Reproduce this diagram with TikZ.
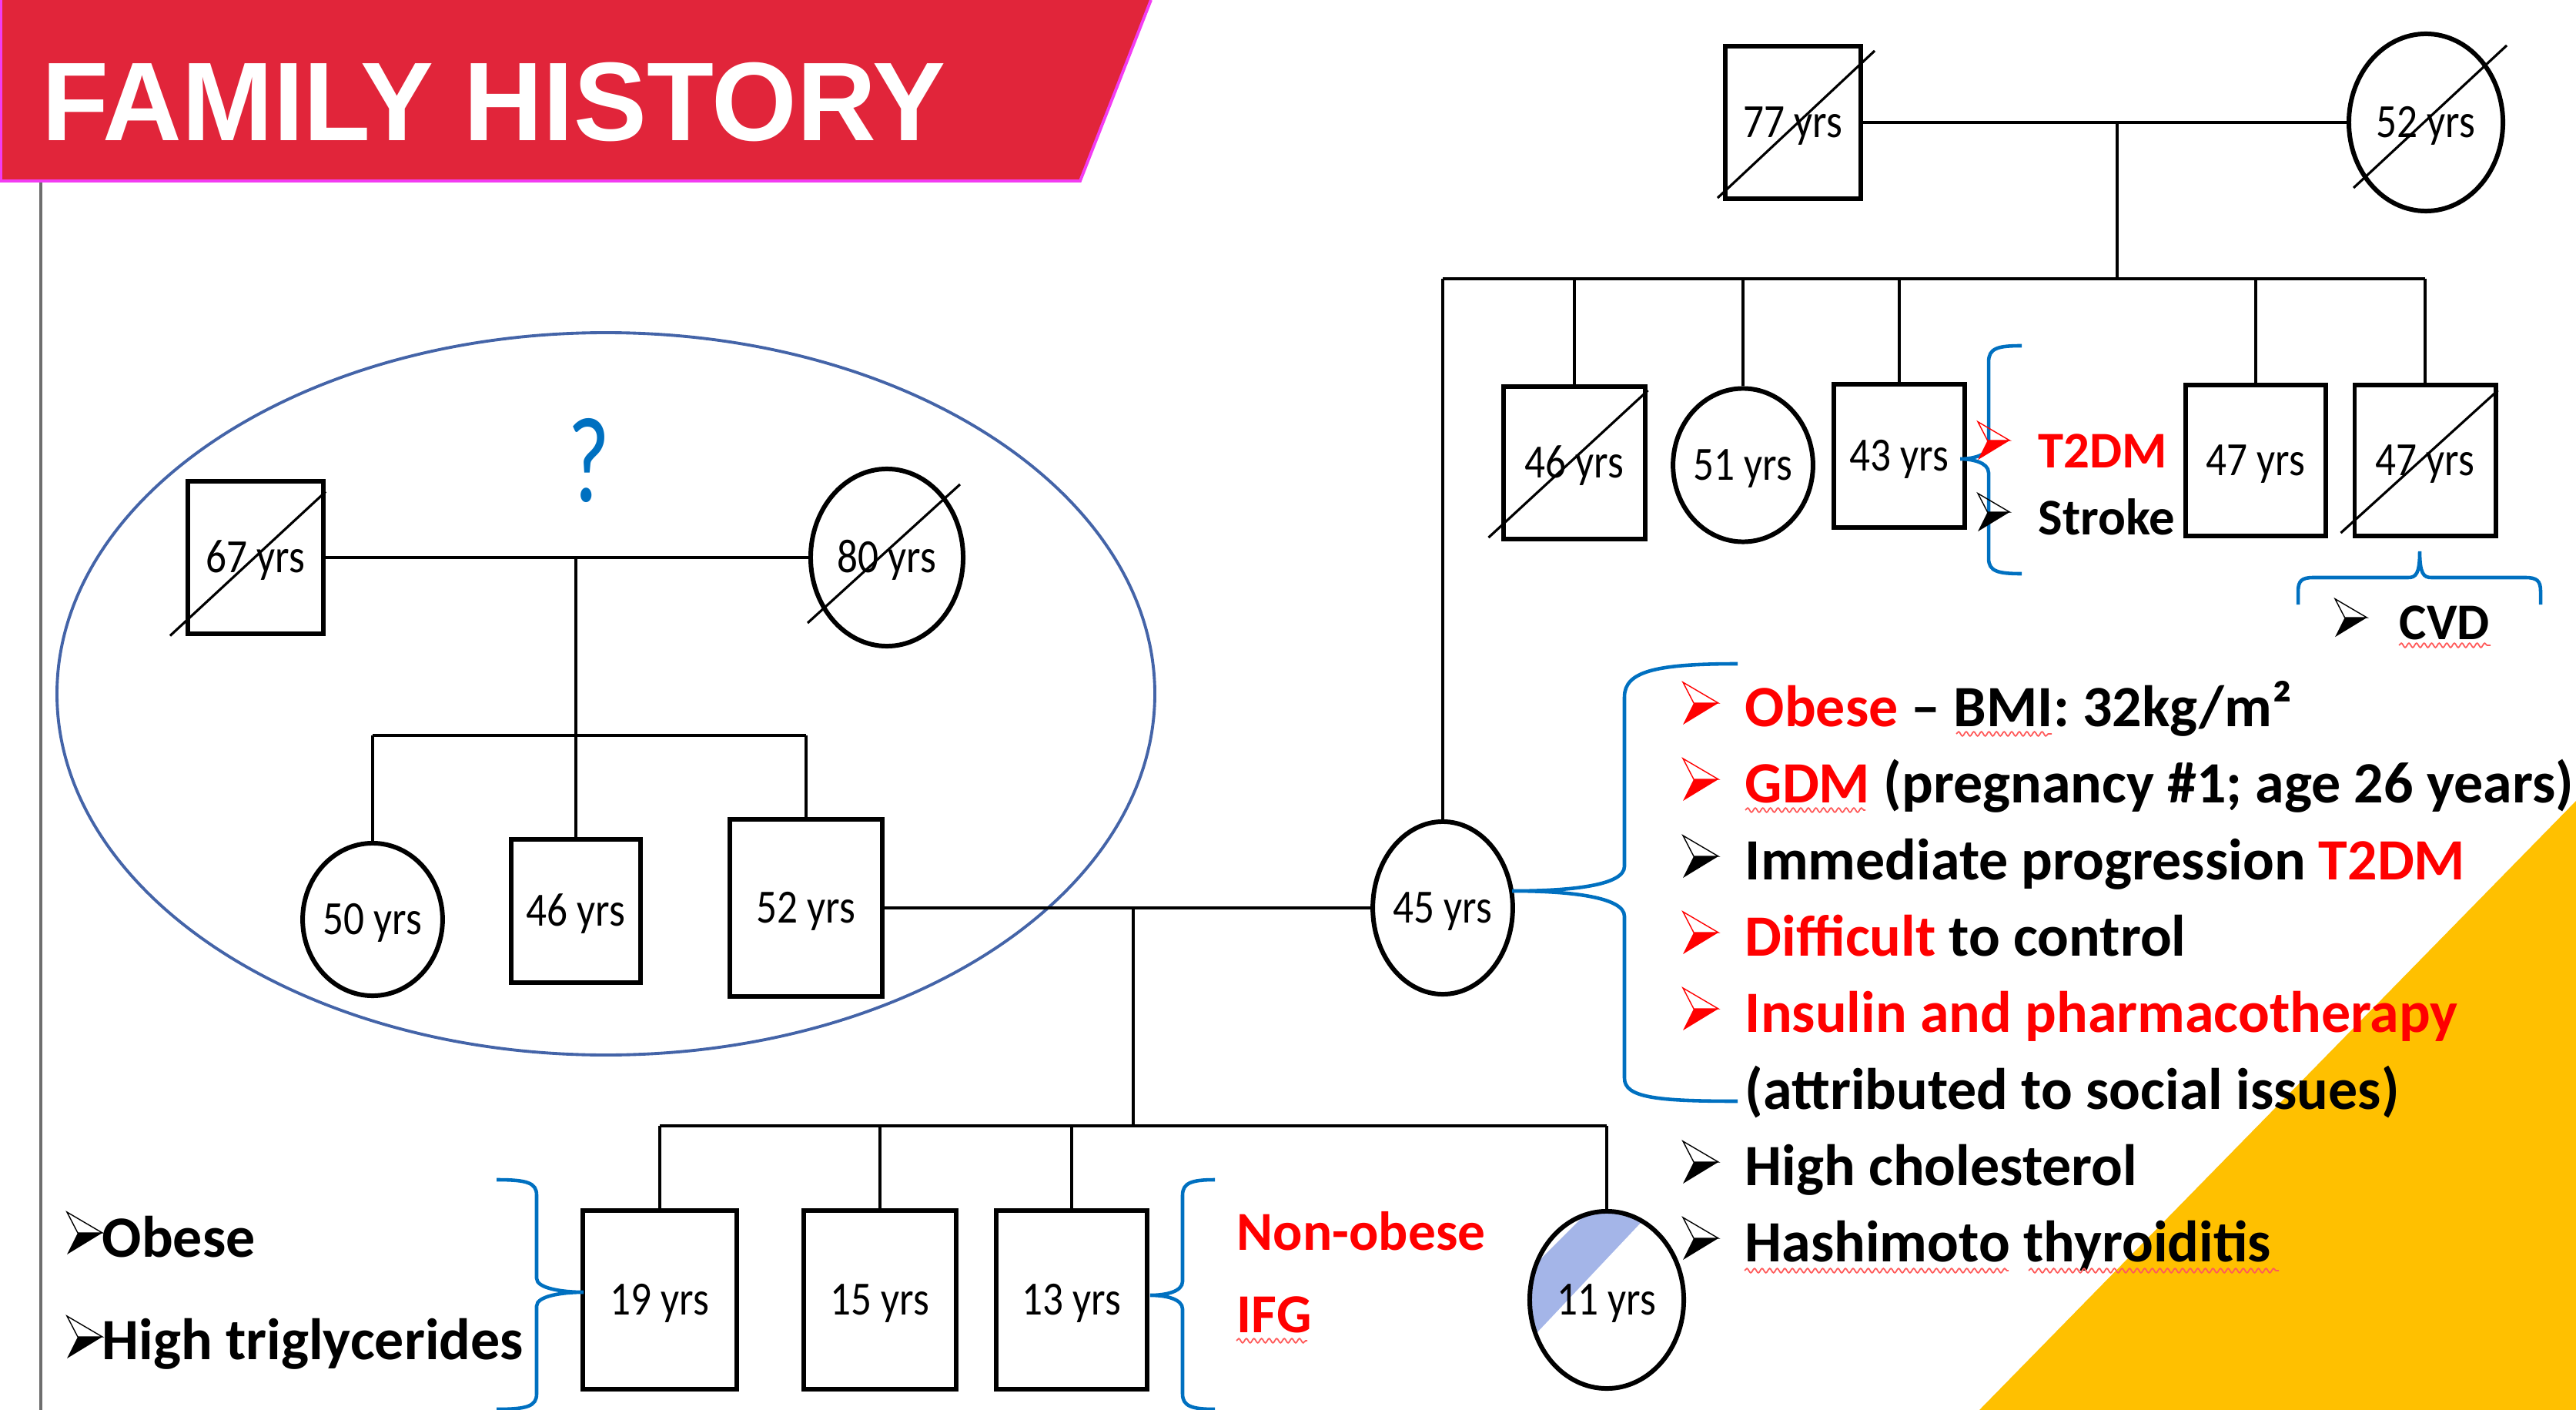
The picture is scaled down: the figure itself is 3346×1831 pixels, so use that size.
\documentclass[tikz,border=0pt]{standalone}
\usepackage{fontspec}
\setmainfont{Carlito}
\newfontfamily\yrsfont[FakeStretch=0.86]{Carlito}
\newfontfamily\titlefont[FakeStretch=0.98]{Liberation Sans}
\usetikzlibrary{calc,shapes.geometric,decorations.pathmorphing}

\definecolor{bannerred}{RGB}{225,37,58}
\definecolor{bannerpink}{RGB}{242,60,242}
\definecolor{ellblue}{RGB}{68,100,168}
\definecolor{braceblue}{RGB}{0,112,192}
\definecolor{bandblue}{RGB}{164,181,232}
\definecolor{gold}{RGB}{255,192,0}
\definecolor{squigred}{RGB}{255,90,90}
\definecolor{bargray}{RGB}{110,110,110}

\begin{document}
\begin{tikzpicture}[x=0.01cm,y=-0.01cm,
  ind/.style={draw,line width=1.7pt,inner sep=0pt,text height=14pt,font=\yrsfont\fontsize{17.6}{20}\selectfont},
  male/.style={ind,rectangle},
  female/.style={ind,ellipse},
  line/.style={line width=1.3pt},
  slash/.style={line width=0.9pt},
  brace/.style={draw=braceblue,line width=1.3pt},
  txt/.style={anchor=base west,inner sep=0pt,font=\bfseries\fontsize{21.6}{26}\selectfont},
  smalltxt/.style={txt,font=\bfseries\fontsize{19}{23}\selectfont},
  squig/.style={draw=squigred,line width=0.5pt,decorate,decoration={snake,amplitude=0.8pt,segment length=2.8pt}},
  pics/bul/.style={code={
    \fill[#1] (14,0) -- (46,0) -- (0,28) -- cycle;
    \draw[#1,line width=0.4pt] (0,-27) -- (46,0) -- (14,0) -- cycle;}}]
\useasboundingbox (0,0) rectangle (3346,1831);

% background
\fill[gold] (3346,1040) -- (3346,1831) -- (2571,1831) -- cycle;
\fill[bannerred] (0,0) -- (1495,0) -- (1403,235) -- (0,235) -- cycle;
\draw[bannerpink,line width=1.1pt] (1495,0) -- (1403,235) -- (1,235) -- (1,0);
\node[anchor=base west,inner sep=0pt,text=white,font=\titlefont\bfseries\fontsize{41.3}{48}\selectfont] (title) at (54,183) {FAMILY HISTORY};
\draw[bargray,line width=1.1pt] (53,237) -- (53,1831);

% father's side
\draw[ellblue,line width=1.1pt] (787,901) ellipse [x radius=713, y radius=469];
\node[text=braceblue,font=\fontsize{45}{50}\selectfont] (qmark) at (765,598) {\scalebox{0.75}[1]{?}};

% affected band in 11 yrs
\begin{scope}
\clip (2087,1688) ellipse [x radius=100, y radius=115];
\fill[bandblue] (1867,1769) -- (2120,1516) -- (2199,1516) -- (1960,1769) -- cycle;
\end{scope}

% individuals
\node[male,minimum width=1.76cm,minimum height=1.98cm] (gf77) at (2329,159) {77 yrs};
\node[female,minimum width=2cm,minimum height=2.3cm] (gm52) at (3151,159) {52 yrs};
\node[male,minimum width=1.83cm,minimum height=1.98cm] (u46) at (2045,601) {46 yrs};
\node[female,minimum width=1.77cm,minimum height=1.99cm] (a51) at (2264,604) {51 yrs};
\node[male,minimum width=1.7cm,minimum height=1.85cm] (u43) at (2467,592) {43 yrs};
\node[male,minimum width=1.82cm,minimum height=1.96cm] (u47) at (2930,598) {47 yrs};
\node[male,minimum width=1.83cm,minimum height=1.96cm] (u47d) at (3150,598) {47 yrs};
\node[female,minimum width=1.78cm,minimum height=2.24cm] (mom45) at (1874,1179) {45 yrs};

\node[male,minimum width=1.76cm,minimum height=1.97cm] (gf67) at (332,724) {67 yrs};
\node[female,minimum width=1.98cm,minimum height=2.3cm] (gm80) at (1152,724) {80 yrs};
\node[female,minimum width=1.75cm,minimum height=1.98cm] (a50) at (484,1194) {50 yrs};
\node[male,minimum width=1.68cm,minimum height=1.86cm] (u46l) at (748,1183) {46 yrs};
\node[male,minimum width=1.97cm,minimum height=2.29cm] (dad52) at (1047,1179) {52 yrs};

\node[male,minimum width=1.99cm,minimum height=2.31cm] (c19) at (857,1688) {19 yrs};
\node[male,minimum width=1.97cm,minimum height=2.31cm] (c15) at (1143,1688) {15 yrs};
\node[male,minimum width=1.95cm,minimum height=2.31cm] (c13) at (1392,1688) {13 yrs};
\node[female,minimum width=2cm,minimum height=2.3cm] (c11) at (2087,1688) {11 yrs};

% deceased
\draw[slash] ($(gf77.south west)+(-7,-4)$) -- ($(gf77.north east)+(15,9)$);
\draw[slash] ($(gm52.center)+(-94,85)$) -- ($(gm52.center)+(105,-100)$);
\draw[slash] ($(u46.south west)+(-17,-5)$) -- ($(u46.north east)+(1,8)$);
\draw[slash] ($(u47d.south west)+(-15,-7)$) -- ($(u47d.north east)+(0,10)$);
\draw[slash] ($(gf67.south west)+(-20,0)$) -- ($(gf67.north east)+(0,16)$);
\draw[slash] ($(gm80.center)+(-103,85)$) -- ($(gm80.center)+(95,-95)$);

% mother's family
\coordinate (tmid) at (2750,159);
\coordinate (tsib) at (2750,362);
\coordinate (tbl) at (1874,362);
\coordinate (tbr) at (3150,362);
\draw[line] (gf77) -- (gm52);
\draw[line] (tmid) -- (tsib);
\draw[line] (tbl) -- (tbr);
\draw[line] (tbl) -- (mom45.north);
\draw[line] (u46 |- tsib) -- (u46.north);
\draw[line] (a51 |- tsib) -- (a51.north);
\draw[line] (u43 |- tsib) -- (u43.north);
\draw[line] (u47 |- tsib) -- (u47.north);
\draw[line] (u47d |- tsib) -- (u47d.north);

% father's family
\coordinate (lmid) at (748,724);
\coordinate (lsib) at (748,955);
\draw[line] (gf67) -- (gm80);
\draw[line] (lmid) -- (lsib);
\draw[line] (a50 |- lsib) -- (dad52 |- lsib);
\draw[line] (a50 |- lsib) -- (a50.north);
\draw[line] (lsib) -- (u46l.north);
\draw[line] (dad52 |- lsib) -- (dad52.north);

% children
\coordinate (cmid) at (1472,1179);
\coordinate (csib) at (1472,1462);
\draw[line] (dad52) -- (mom45);
\draw[line] (cmid) -- (csib);
\draw[line] (c19 |- csib) -- (c11 |- csib);
\draw[line] (c19 |- csib) -- (c19.north);
\draw[line] (c15 |- csib) -- (c15.north);
\draw[line] (c13 |- csib) -- (c13.north);
\draw[line] (c11 |- csib) -- (c11.north);

% braces
\draw[brace] (2626,449) .. controls (2595,449) and (2583,452) .. (2583,470) -- (2583,578)
  .. controls (2583,592) and (2560,596) .. (2546,596) .. controls (2560,596) and (2583,600) .. (2583,614)
  -- (2583,725) .. controls (2583,742) and (2595,745) .. (2626,745);
\draw[brace] (2985,785) -- (2985,768) .. controls (2985,754) and (2990,750) .. (3005,750) -- (3128,750)
  .. controls (3138,750) and (3143,745) .. (3143,716) .. controls (3143,745) and (3148,750) .. (3158,750)
  -- (3280,750) .. controls (3295,750) and (3300,754) .. (3300,768) -- (3300,785);
\draw[brace] (2257,862) .. controls (2150,862) and (2110,872) .. (2110,905) -- (2110,1125)
  .. controls (2110,1150) and (2040,1157) .. (1964,1157) .. controls (2040,1157) and (2110,1165) .. (2110,1190)
  -- (2110,1400) .. controls (2110,1425) and (2150,1430) .. (2257,1430);
\draw[brace] (645,1532) .. controls (685,1532) and (697,1536) .. (697,1552) -- (697,1660)
  .. controls (697,1673) and (730,1678) .. (758,1678) .. controls (730,1678) and (697,1683) .. (697,1696)
  -- (697,1810) .. controls (697,1826) and (685,1830) .. (645,1830);
\draw[brace] (1578,1532) .. controls (1548,1532) and (1536,1536) .. (1536,1552) -- (1536,1664)
  .. controls (1536,1677) and (1515,1682) .. (1494,1682) .. controls (1515,1682) and (1536,1687) .. (1536,1700)
  -- (1536,1810) .. controls (1536,1826) and (1548,1830) .. (1578,1830);

% notes
\pic[scale=0.9] at (2569,572) {bul=red};
\node[smalltxt,text=red] (t2dm) at (2647,607) {T2DM};
\pic[scale=0.9] at (2569,665) {bul=black};
\node[smalltxt] (stroke) at (2647,694) {Stroke};
\pic[scale=0.9] at (3033,802) {bul=black};
\node[smalltxt] (cvd) at (3116,830) {CVD};

\pic at (2186,913) {bul=red};
\node[txt] (m1) at (2266,943) {\textcolor{red}{Obese} – BMI: 32kg/m²};
\pic at (2186,1012) {bul=red};
\node[txt] (m2) at (2266,1042) {\textcolor{red}{GDM} (pregnancy \#1; age 26 years)};
\pic at (2186,1112) {bul=black};
\node[txt] (m3) at (2266,1142) {Immediate progression \textcolor{red}{T2DM}};
\pic at (2186,1211) {bul=red};
\node[txt] (m4) at (2266,1241) {\textcolor{red}{Difficult} to control};
\pic at (2186,1310) {bul=red};
\node[txt,text=red] (m5) at (2266,1340) {Insulin and pharmacotherapy};
\node[txt] (m6) at (2266,1440) {(attributed to social issues)};
\pic at (2186,1509) {bul=black};
\node[txt] (m7) at (2266,1539) {High cholesterol};
\pic at (2186,1608) {bul=black};
\node[txt] (m8) at (2266,1638) {Hashimoto thyroiditis};

\pic at (87,1601) {bul=black};
\node[txt] (s1) at (132,1632) {Obese};
\pic at (87,1736) {bul=black};
\node[txt] (s2) at (132,1765) {High triglycerides};

\node[txt,text=red,font=\bfseries\fontsize{20.3}{24}\selectfont] (d1) at (1606,1623) {Non-obese};
\node[txt,text=red,font=\bfseries\fontsize{20.3}{24}\selectfont] (d2) at (1606,1730) {IFG};

% spelling marks
\draw[squig] (2541,953) -- (2665,953);
\draw[squig] (2267,1052) -- (2423,1052);
\draw[squig] (2266,1650) -- (2609,1650);
\draw[squig] (2635,1650) -- (2960,1650);
\draw[squig] (3116,838) -- (3235,838);
\draw[squig] (1606,1741) -- (1698,1741);
\end{tikzpicture}
\end{document}
